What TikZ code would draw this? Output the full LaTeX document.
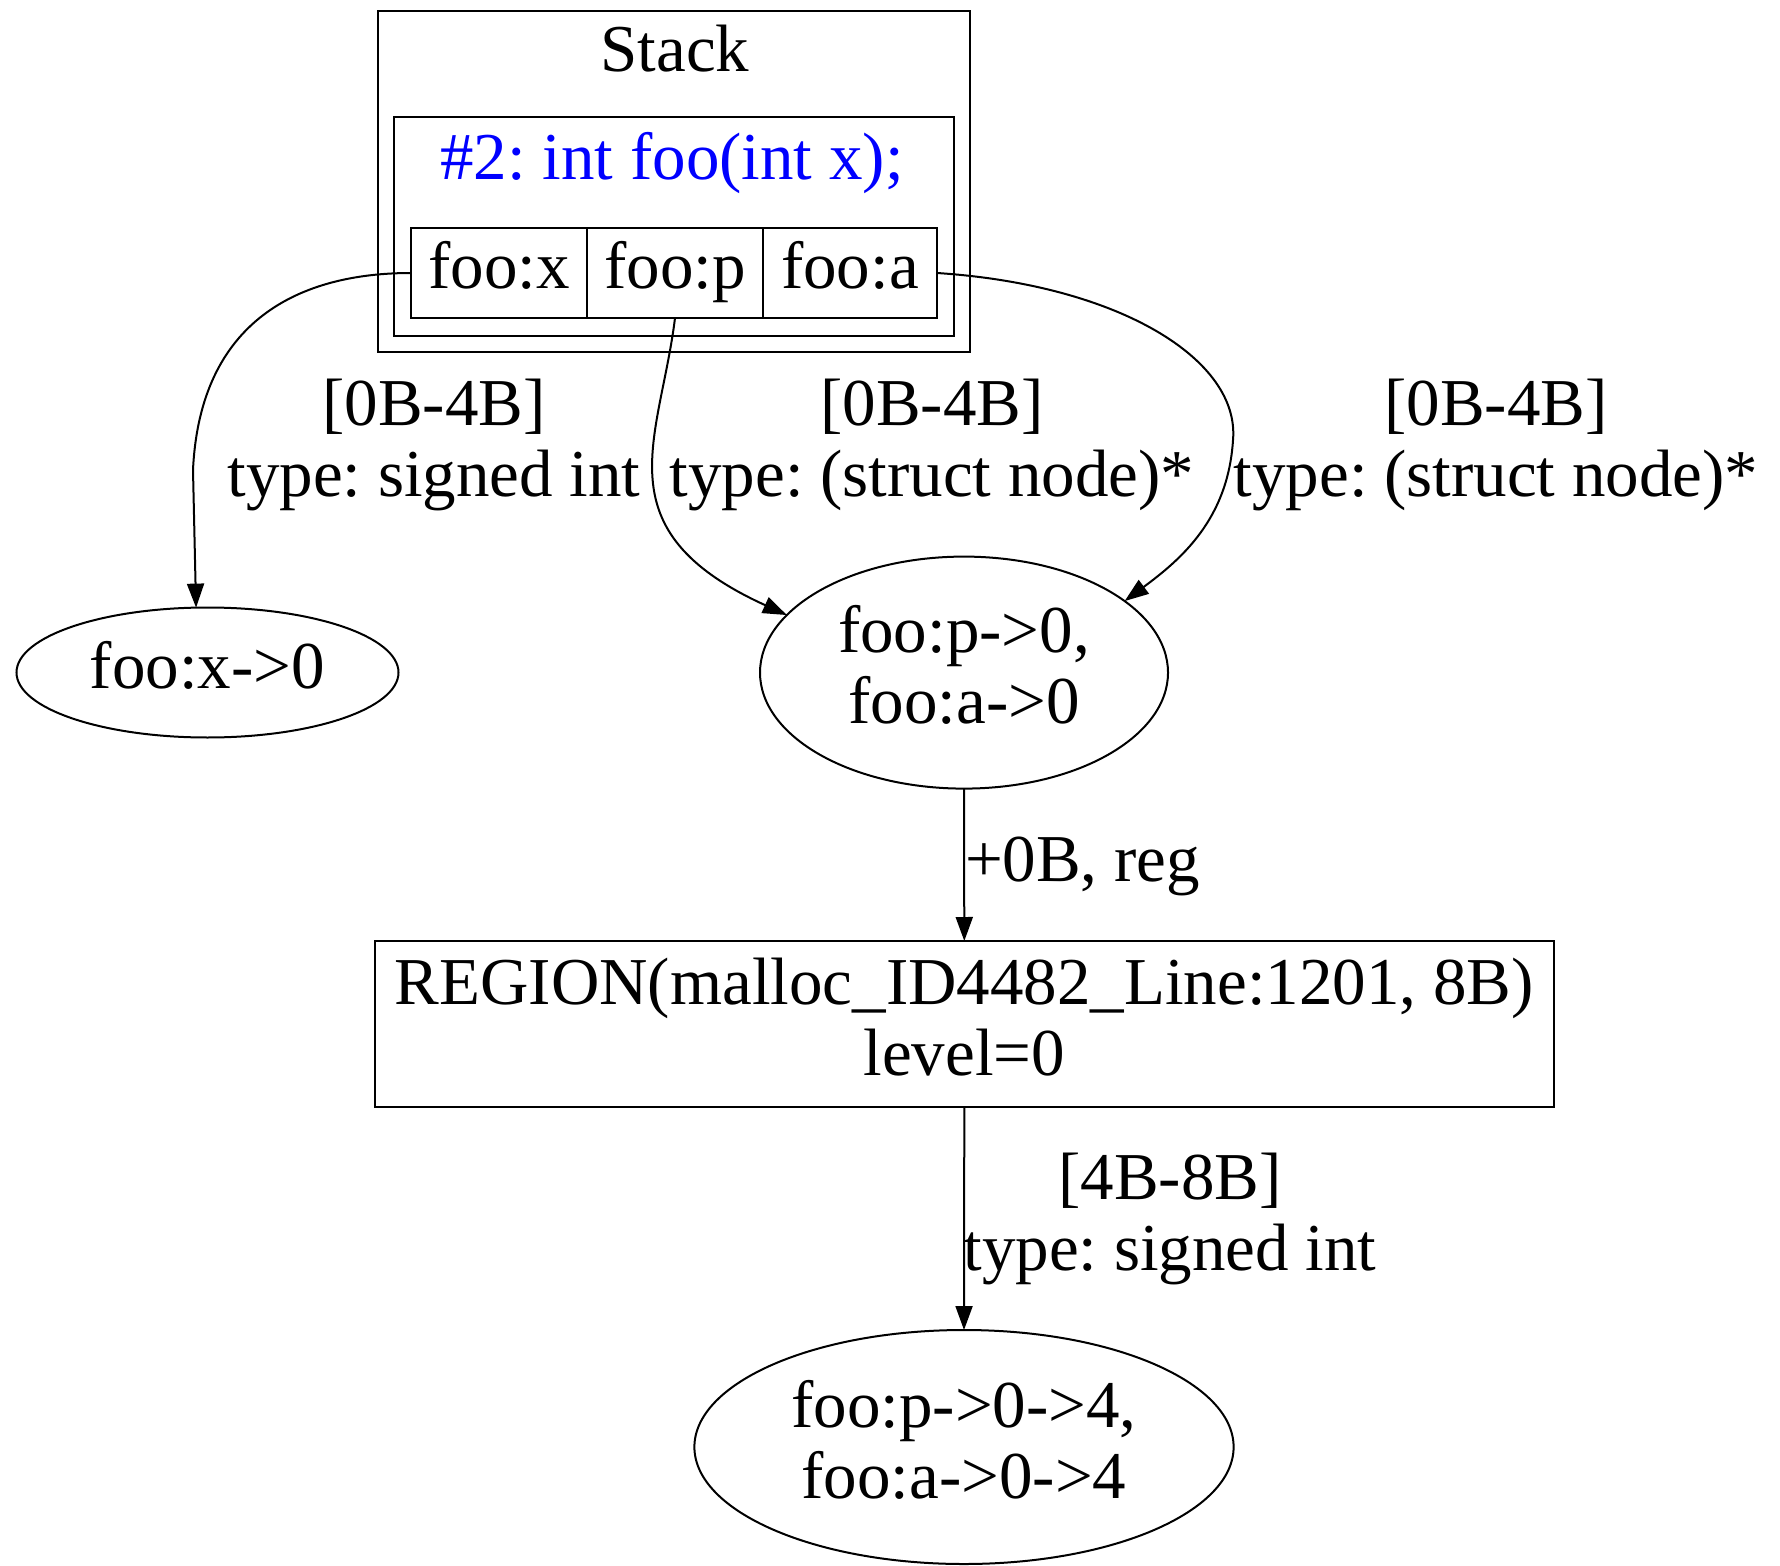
\documentclass[tikz,border=0pt]{standalone}
\usepackage{fontspec}
\setmainfont{Liberation Serif}
\usetikzlibrary{shapes.geometric,arrows.meta}
\frenchspacing
% uniform line box so every text line is centred the same way
\newcommand{\gvstrut}{\rule[-0.23em]{0pt}{0.92em}}
\definecolor{hdrblue}{RGB}{0,0,255}
\begin{document}
\begin{tikzpicture}[x=0.5pt,y=-0.5pt,
  every node/.style={inner sep=0pt, outer sep=0pt, font=\fontsize{33.5pt}{35.5pt}\selectfont},
  box/.style={draw, line width=1pt, rectangle},
  field/.style={box, minimum height=45pt},
  oval/.style={draw, line width=1pt, ellipse, align=center},
  link/.style={draw, line width=1pt, -{Triangle[length=12pt,width=8.5pt]}},
  tag/.style={align=center},
]
\useasboundingbox (0,0) rectangle (1780,1566);

% stack cluster with the frame of foo
\node[box, minimum width=296pt, minimum height=170.5pt] (stack) at (674,181.5) {};
\node[anchor=base] (stacklbl) at (675,72) {Stack};
\node[box, minimum width=279.75pt, minimum height=109.5pt] (frame) at (673.75,226.5) {};
\node[anchor=base, text=hdrblue] (framelbl) at (672,180) {\#2: int foo(int x);};

% record fields of the frame
\node[field, minimum width=88pt] (fx) at (499,273) {\gvstrut foo:x};
\node[field, minimum width=88pt] (fp) at (675,273) {\gvstrut foo:p};
\node[field, minimum width=87pt] (fa) at (850,273) {\gvstrut foo:a};

% memory objects
\node[oval, minimum width=191pt, minimum height=65pt] (xe) at (207.5,672.5) {\gvstrut foo:x->0};
\node[oval, minimum width=204pt, minimum height=116pt] (mid) at (964,672.6) {\gvstrut foo:p->0,\\\gvstrut foo:a->0};
\node[box, align=center, minimum width=589.7pt, minimum height=83pt] (region) at (964.3,1024)
  {\gvstrut REGION(malloc\_ID4482\_Line:1201, 8B)\\\gvstrut level=0};
\node[oval, minimum width=269.6pt, minimum height=117pt] (bot) at (964,1447) {\gvstrut foo:p->0->4,\\\gvstrut foo:a->0->4};

% points-to edges
\draw[link] (fx.west) .. controls (300,273) and (200,320) .. (193,470) -- (xe.100);
\draw[link] (fp.south) .. controls (660,440) and (600,530) .. (mid.162);
\draw[link] (fa.east) .. controls (1120,285) and (1240,360) .. (1233,440)
  .. controls (1228,520) and (1180,560) .. (mid.24);
\draw[link] (mid.south) -- (region.north);
\draw[link] (region.south) -- (bot.north);

% edge labels
\node[tag] (l1) at (434,445.5) {\gvstrut [0B-4B]\\\gvstrut type: signed int};
\node[tag] (l2) at (932,445.5) {\gvstrut [0B-4B]\\\gvstrut type: (struct node)*};
\node[tag] (l3) at (1496,445.5) {\gvstrut [0B-4B]\\\gvstrut type: (struct node)*};
\node[anchor=west] (l4) at (965,866.5) {\gvstrut +0B, reg};
\node[tag] (l5) at (1170,1219) {\gvstrut [4B-8B]\\\gvstrut type: signed int};
\end{tikzpicture}
\end{document}
